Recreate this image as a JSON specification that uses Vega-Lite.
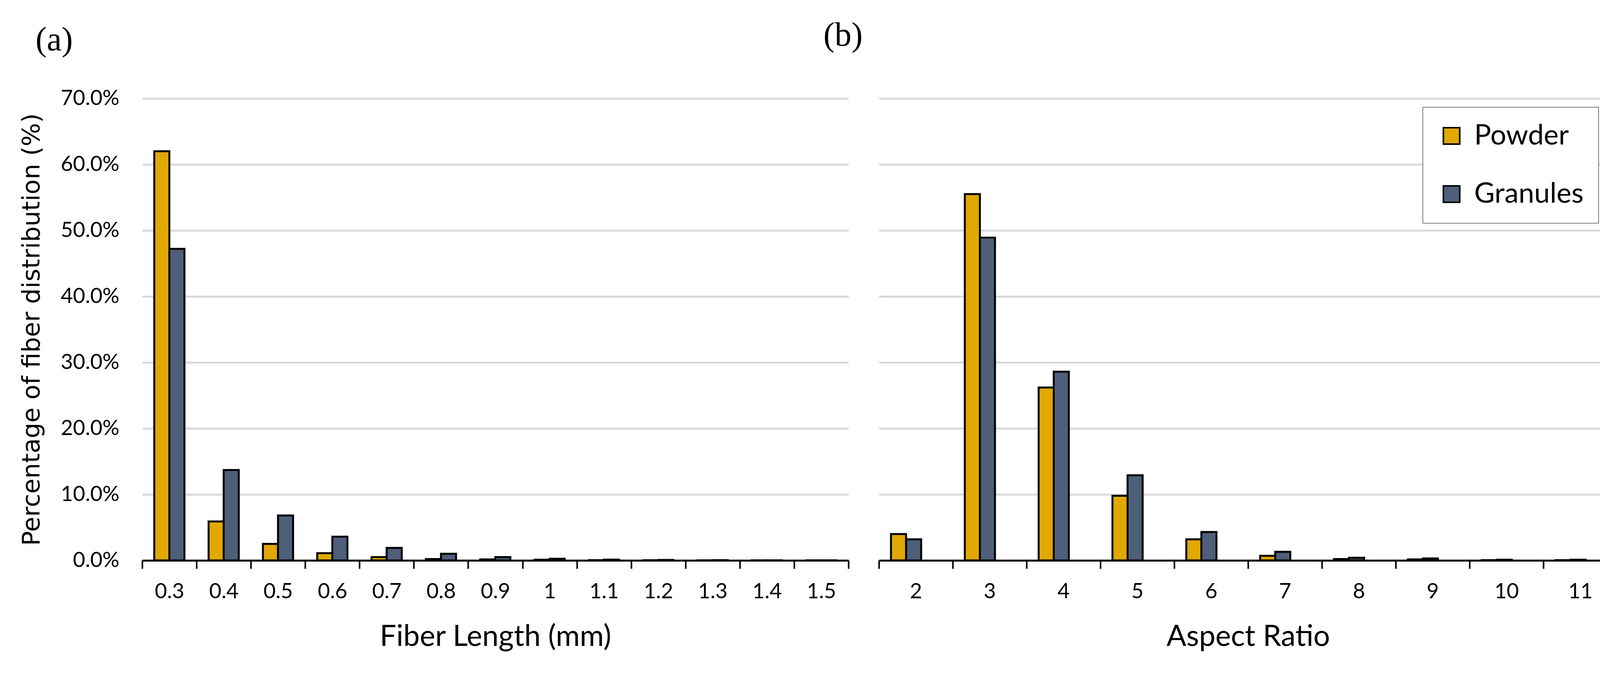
{
  "$schema": "https://vega.github.io/schema/vega-lite/v6.json",
  "background": "white",
  "padding": {"left": 50, "top": 48, "right": 10, "bottom": 10},
  "spacing": 78,
  "bounds": "flush",
  "config": {
    "view": {"stroke": null},
    "axis": {"labelFont": "Lato", "titleFont": "Lato", "labelColor": "#000", "titleColor": "#000", "titleFontWeight": "normal"},
    "title": {"font": "Liberation Serif", "fontWeight": "normal", "fontSize": 86, "color": "#000", "anchor": "start", "frame": "group"},
    "legend": {"labelFont": "Lato", "labelFontSize": 72, "labelColor": "#000", "labelLimit": 600}
  },
  "resolve": {"legend": {"color": "independent"}},
  "hconcat": [
    {
      "width": 1808,
      "height": 1183,
      "title": {"text": "(a)", "dx": -273, "offset": 78},
      "data": {"values": [
        {"length": "0.3", "type": "Powder", "pct": 62.0},
        {"length": "0.3", "type": "Granules", "pct": 47.2},
        {"length": "0.4", "type": "Powder", "pct": 5.9},
        {"length": "0.4", "type": "Granules", "pct": 13.7},
        {"length": "0.5", "type": "Powder", "pct": 2.5},
        {"length": "0.5", "type": "Granules", "pct": 6.8},
        {"length": "0.6", "type": "Powder", "pct": 1.1},
        {"length": "0.6", "type": "Granules", "pct": 3.6},
        {"length": "0.7", "type": "Powder", "pct": 0.5},
        {"length": "0.7", "type": "Granules", "pct": 1.9},
        {"length": "0.8", "type": "Powder", "pct": 0.2},
        {"length": "0.8", "type": "Granules", "pct": 1.0},
        {"length": "0.9", "type": "Powder", "pct": 0.15},
        {"length": "0.9", "type": "Granules", "pct": 0.5},
        {"length": "1", "type": "Powder", "pct": 0.1},
        {"length": "1", "type": "Granules", "pct": 0.25},
        {"length": "1.1", "type": "Powder", "pct": 0.05},
        {"length": "1.1", "type": "Granules", "pct": 0.12},
        {"length": "1.2", "type": "Powder", "pct": 0.03},
        {"length": "1.2", "type": "Granules", "pct": 0.08},
        {"length": "1.3", "type": "Powder", "pct": 0.02},
        {"length": "1.3", "type": "Granules", "pct": 0.05},
        {"length": "1.4", "type": "Powder", "pct": 0.01},
        {"length": "1.4", "type": "Granules", "pct": 0.02},
        {"length": "1.5", "type": "Powder", "pct": 0.01},
        {"length": "1.5", "type": "Granules", "pct": 0.01}
      ]},
      "mark": {"type": "bar", "stroke": "#000", "strokeWidth": 5},
      "encoding": {
        "x": {
          "field": "length", "type": "ordinal", "sort": null,
          "scale": {"paddingInner": 0, "paddingOuter": 0},
          "title": "Fiber Length (mm)",
          "axis": {"labelAngle": 0, "labelFontSize": 54, "titleFontSize": 75, "tickBand": "extent", "tickSize": 21, "tickWidth": 4, "tickColor": "#000", "domainColor": "#000", "domainWidth": 5, "labelPadding": 32, "titlePadding": 52, "zindex": 1, "grid": false}
        },
        "xOffset": {"field": "type", "sort": ["Powder", "Granules"], "scale": {"paddingOuter": 0.8, "paddingInner": 0}},
        "y": {
          "field": "pct", "type": "quantitative",
          "scale": {"domain": [0, 70]},
          "title": "Percentage of fiber distribution (%)",
          "axis": {"values": [0, 10, 20, 30, 40, 50, 60, 70], "format": ".1f", "labelExpr": "datum.label + '%'", "labelFontSize": 54, "titleFont": "DejaVu Sans", "titleFontSize": 63, "domain": false, "ticks": false, "tickSize": 0, "labelPadding": 59, "titlePadding": 51, "grid": true, "gridColor": "#D9D9D9", "gridWidth": 5}
        },
        "color": {"field": "type", "sort": ["Powder", "Granules"], "scale": {"domain": ["Powder", "Granules"], "range": ["#E0A800", "#4E5F7A"]}, "legend": null}
      }
    },
    {
      "width": 1890,
      "height": 1183,
      "title": {"text": "(b)", "dx": -142, "offset": 117},
      "data": {"values": [
        {"ratio": 2, "type": "Powder", "pct": 4.0},
        {"ratio": 2, "type": "Granules", "pct": 3.2},
        {"ratio": 3, "type": "Powder", "pct": 55.5},
        {"ratio": 3, "type": "Granules", "pct": 48.9},
        {"ratio": 4, "type": "Powder", "pct": 26.2},
        {"ratio": 4, "type": "Granules", "pct": 28.6},
        {"ratio": 5, "type": "Powder", "pct": 9.8},
        {"ratio": 5, "type": "Granules", "pct": 12.9},
        {"ratio": 6, "type": "Powder", "pct": 3.2},
        {"ratio": 6, "type": "Granules", "pct": 4.3},
        {"ratio": 7, "type": "Powder", "pct": 0.7},
        {"ratio": 7, "type": "Granules", "pct": 1.3},
        {"ratio": 8, "type": "Powder", "pct": 0.2},
        {"ratio": 8, "type": "Granules", "pct": 0.4},
        {"ratio": 9, "type": "Powder", "pct": 0.15},
        {"ratio": 9, "type": "Granules", "pct": 0.3},
        {"ratio": 10, "type": "Powder", "pct": 0.05},
        {"ratio": 10, "type": "Granules", "pct": 0.1},
        {"ratio": 11, "type": "Powder", "pct": 0.05},
        {"ratio": 11, "type": "Granules", "pct": 0.1}
      ]},
      "mark": {"type": "bar", "stroke": "#000", "strokeWidth": 5},
      "encoding": {
        "x": {
          "field": "ratio", "type": "ordinal",
          "scale": {"paddingInner": 0, "paddingOuter": 0},
          "title": "Aspect Ratio",
          "axis": {"labelAngle": 0, "labelFontSize": 54, "titleFontSize": 75, "tickBand": "extent", "tickSize": 21, "tickWidth": 4, "tickColor": "#000", "domainColor": "#000", "domainWidth": 5, "labelPadding": 32, "titlePadding": 52, "zindex": 1, "grid": false}
        },
        "xOffset": {"field": "type", "sort": ["Powder", "Granules"], "scale": {"paddingOuter": 0.8, "paddingInner": 0}},
        "y": {
          "field": "pct", "type": "quantitative",
          "scale": {"domain": [0, 70]},
          "title": null,
          "axis": {"values": [0, 10, 20, 30, 40, 50, 60, 70], "labels": false, "domain": false, "ticks": false, "tickSize": 0, "grid": true, "gridColor": "#D9D9D9", "gridWidth": 5}
        },
        "color": {
          "field": "type", "sort": ["Powder", "Granules"],
          "scale": {"domain": ["Powder", "Granules"], "range": ["#E0A800", "#4E5F7A"]},
          "legend": {"title": null, "orient": "none", "legendX": 1392, "legendY": 22, "direction": "vertical", "symbolType": "square", "symbolSize": 1750, "symbolStrokeColor": "#000", "symbolStrokeWidth": 4, "symbolOpacity": 1, "labelOffset": 22, "rowPadding": 77, "padding": 38, "strokeColor": "#000", "fillColor": "#fff"}
        }
      }
    }
  ]
}
